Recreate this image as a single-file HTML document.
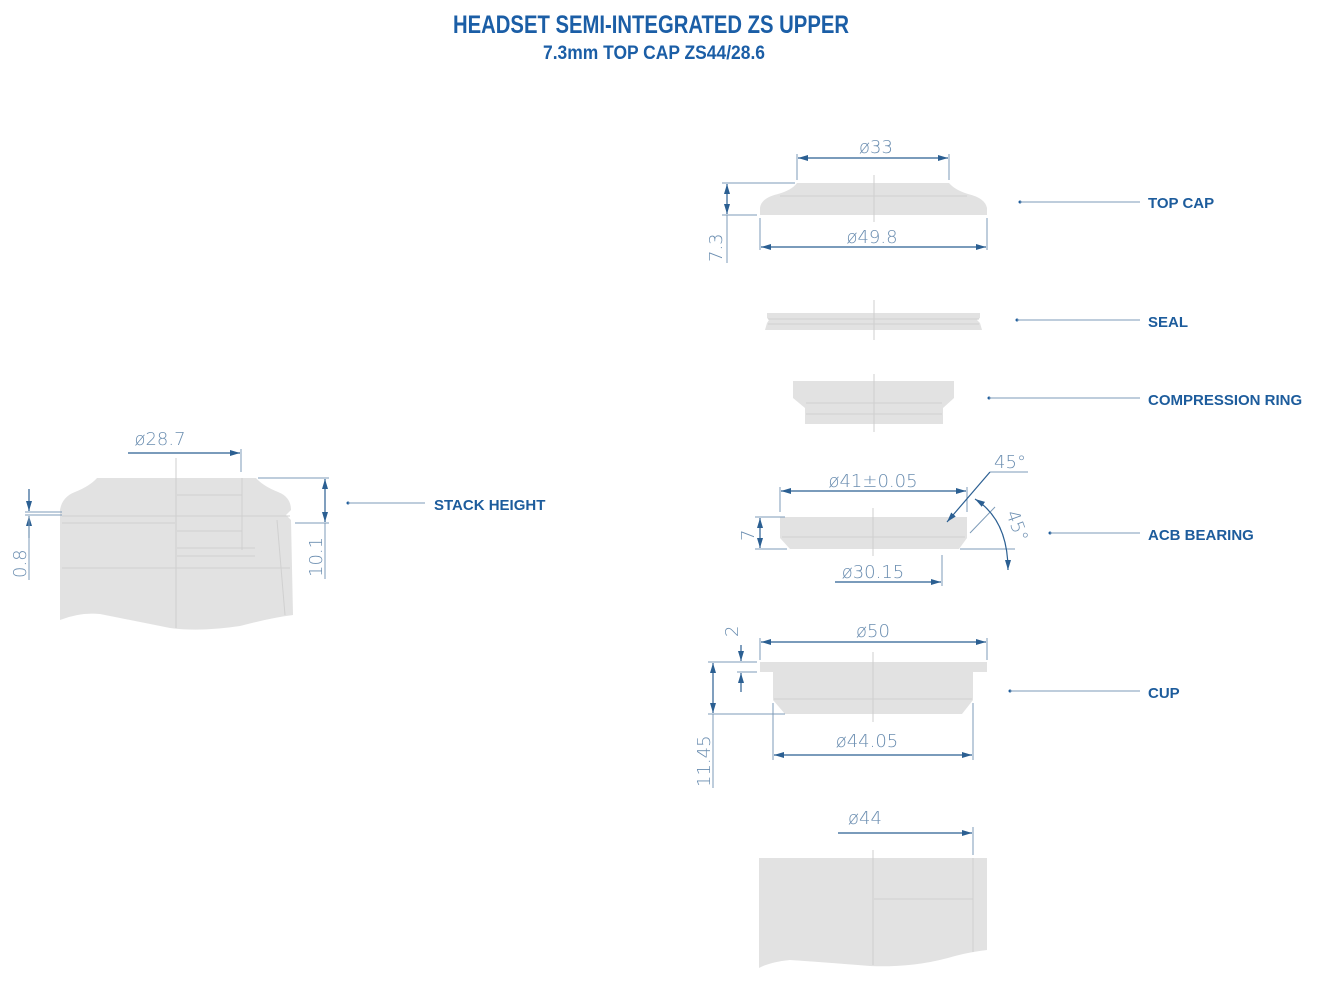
<!DOCTYPE html>
<html><head><meta charset="utf-8"><style>
html,body{margin:0;padding:0;background:#fff;}
svg{display:block;}
.t{font-family:"Liberation Sans Narrow","Liberation Sans",sans-serif;font-weight:bold;fill:#1b5ea6;}
.lb{font-family:"Liberation Sans",sans-serif;font-weight:bold;fill:#1d5c9c;font-size:15px;}
.d{font-family:"DejaVu Sans","Liberation Sans",sans-serif;fill:#6a8db0;font-size:18px;font-weight:200;}
.dl{stroke:#2b5f92;stroke-width:1.2;fill:none;}
.el{stroke:#7d9bb8;stroke-width:1;fill:none;}
.sh{fill:#e2e2e2;}
.ln{stroke:#d0d0d0;stroke-width:1;fill:none;}
.cl{stroke:#cfcfcf;stroke-width:1;}
</style></head><body>
<svg width="1321" height="988" viewBox="0 0 1321 988" xmlns="http://www.w3.org/2000/svg">
<defs>
<marker id="a" viewBox="0 0 10 6" refX="10" refY="3" markerWidth="10" markerHeight="6" orient="auto-start-reverse" markerUnits="userSpaceOnUse"><path d="M0,0 L10,3 L0,6 Z" fill="#2b5f92"/></marker>
</defs>
<text class="t" x="651" y="33" font-size="25" text-anchor="middle" textLength="396" lengthAdjust="spacingAndGlyphs">HEADSET SEMI-INTEGRATED ZS UPPER</text>
<text class="t" x="654" y="59" font-size="19" text-anchor="middle" textLength="222" lengthAdjust="spacingAndGlyphs">7.3mm TOP CAP ZS44/28.6</text>

<!-- TOP CAP -->
<path class="sh" d="M760,215 L760,208 Q761,198 778,194 Q792,190 797,183 L949,183 Q955,190 968,194 Q985,198 987,208 L987,215 Z"/>
<line class="ln" x1="780" y1="196" x2="967" y2="196"/>
<line class="cl" x1="874" y1="175" x2="874" y2="222"/>
<line class="el" x1="797" y1="154" x2="797" y2="180"/><line class="el" x1="949" y1="154" x2="949" y2="180"/>
<line class="dl" x1="798" y1="158" x2="948" y2="158" marker-start="url(#a)" marker-end="url(#a)"/>
<text class="d" x="876" y="153" text-anchor="middle">ø33</text>
<line class="el" x1="760" y1="218" x2="760" y2="250"/><line class="el" x1="987" y1="218" x2="987" y2="250"/>
<line class="dl" x1="761" y1="247" x2="986" y2="247" marker-start="url(#a)" marker-end="url(#a)"/>
<text class="d" x="872" y="243" text-anchor="middle">ø49.8</text>
<line class="el" x1="722" y1="183" x2="795" y2="183"/><line class="el" x1="722" y1="215" x2="757" y2="215"/>
<line class="dl" x1="727" y1="184" x2="727" y2="214" marker-start="url(#a)" marker-end="url(#a)"/>
<line class="el" x1="727" y1="215" x2="727" y2="263"/>
<text class="d" transform="translate(722,262) rotate(-90)">7.3</text>

<!-- SEAL -->
<path class="sh" d="M767,313 L980,313 L980,318 L977,320 L980,323 L982,330 L765,330 L767,323 L769,320 L767,318 Z"/>
<line class="ln" x1="768" y1="319" x2="979" y2="319"/><line class="ln" x1="768" y1="324" x2="979" y2="324"/>
<line class="cl" x1="874" y1="300" x2="874" y2="340"/>

<!-- COMPRESSION RING -->
<path class="sh" d="M793,381 L954,381 L954,398 L943,408 L943,424 L805,424 L805,408 L793,398 Z"/>
<line class="ln" x1="806" y1="403" x2="942" y2="403"/><line class="ln" x1="806" y1="414" x2="942" y2="414"/>
<line class="cl" x1="874" y1="374" x2="874" y2="432"/>

<!-- ACB BEARING -->
<path class="sh" d="M780,517 L967,517 L967,538 L959,549 L790,549 L780,538 Z"/>
<line class="ln" x1="782" y1="537" x2="965" y2="537"/>
<line class="cl" x1="873" y1="508" x2="873" y2="556"/>
<line class="el" x1="780" y1="487" x2="780" y2="512"/><line class="el" x1="967" y1="487" x2="967" y2="512"/>
<line class="dl" x1="781" y1="491" x2="966" y2="491" marker-start="url(#a)" marker-end="url(#a)"/>
<text class="d" x="873" y="487" text-anchor="middle" font-size="17">ø41±0.05</text>
<line class="el" x1="755" y1="517" x2="785" y2="517"/><line class="el" x1="755" y1="549" x2="787" y2="549"/>
<line class="dl" x1="760" y1="518" x2="760" y2="548" marker-start="url(#a)" marker-end="url(#a)"/>
<text class="d" transform="translate(754,541) rotate(-90)">7</text>
<line class="el" x1="942" y1="555" x2="942" y2="586"/>
<line class="dl" x1="835" y1="582" x2="941" y2="582" marker-end="url(#a)"/>
<text class="d" x="873" y="578" text-anchor="middle">ø30.15</text>
<line class="el" x1="990" y1="472" x2="1028" y2="472"/>
<line class="dl" x1="990" y1="472" x2="947" y2="522" marker-end="url(#a)"/>
<text class="d" x="1010" y="468" text-anchor="middle">45°</text>
<line class="el" x1="970" y1="533" x2="995" y2="507"/>
<line class="el" x1="960" y1="549" x2="1015" y2="549"/>
<path class="dl" d="M975,499 Q1008,520 1008,570" marker-start="url(#a)" marker-end="url(#a)"/>
<text class="d" transform="translate(1006,513) rotate(70)" font-size="17">45°</text>

<!-- CUP -->
<path class="sh" d="M760,662 L987,662 L987,672 L973,672 L973,700 L962,714 L785,714 L773,700 L773,672 L760,672 Z"/>
<line class="ln" x1="774" y1="699" x2="972" y2="699"/>
<line class="cl" x1="873" y1="652" x2="873" y2="722"/>
<line class="el" x1="760" y1="638" x2="760" y2="660"/><line class="el" x1="987" y1="638" x2="987" y2="660"/>
<line class="dl" x1="761" y1="642" x2="986" y2="642" marker-start="url(#a)" marker-end="url(#a)"/>
<text class="d" x="873" y="637" text-anchor="middle">ø50</text>
<line class="el" x1="708" y1="662" x2="757" y2="662"/><line class="el" x1="737" y1="672" x2="757" y2="672"/>
<line class="dl" x1="741" y1="645" x2="741" y2="661" marker-end="url(#a)"/>
<line class="dl" x1="741" y1="692" x2="741" y2="673" marker-end="url(#a)"/>
<text class="d" transform="translate(738,637) rotate(-90)">2</text>
<line class="el" x1="708" y1="714" x2="785" y2="714"/>
<line class="dl" x1="713" y1="663" x2="713" y2="713" marker-start="url(#a)" marker-end="url(#a)"/>
<line class="el" x1="713" y1="714" x2="713" y2="788"/>
<text class="d" transform="translate(710,787) rotate(-90)">11.45</text>
<line class="el" x1="773" y1="703" x2="773" y2="760"/><line class="el" x1="973" y1="703" x2="973" y2="760"/>
<line class="dl" x1="774" y1="755" x2="972" y2="755" marker-start="url(#a)" marker-end="url(#a)"/>
<text class="d" x="867" y="747" text-anchor="middle">ø44.05</text>

<!-- HEAD TUBE -->
<path class="sh" d="M759,858 L987,858 L987,950 Q970,952 955,956 Q915,968 870,966 Q820,962 790,960 Q770,962 759,968 Z"/>
<line class="cl" x1="873" y1="850" x2="873" y2="965"/>
<line class="ln" x1="874" y1="899" x2="973" y2="899"/>
<line class="ln" x1="973" y1="858" x2="973" y2="952"/>
<line class="el" x1="973" y1="827" x2="973" y2="855"/>
<line class="dl" x1="838" y1="833" x2="972" y2="833" marker-end="url(#a)"/>
<text class="d" x="865" y="824" text-anchor="middle">ø44</text>

<!-- STACK (left) -->
<path class="sh" d="M60,510 Q62,497 75,492 Q90,486 97,478 L256,478 Q263,486 278,492 Q291,497 291,510 L286,515 L291,520 L293,615 Q270,618 240,626 Q200,632 170,628 Q130,620 100,614 Q80,612 60,620 Z"/>
<line class="ln" x1="62" y1="516" x2="290" y2="516"/>
<line class="ln" x1="62" y1="523" x2="175" y2="523"/>
<line class="ln" x1="62" y1="568" x2="290" y2="568"/>
<line class="ln" x1="177" y1="495" x2="242" y2="495"/>
<line class="ln" x1="177" y1="531" x2="242" y2="531"/>
<line class="ln" x1="177" y1="548" x2="255" y2="548"/>
<line class="ln" x1="177" y1="556" x2="255" y2="556"/>
<line class="ln" x1="242" y1="478" x2="242" y2="550"/>
<line class="ln" x1="277" y1="520" x2="285" y2="615"/>
<line class="cl" x1="176" y1="458" x2="176" y2="628"/>
<line class="el" x1="241" y1="449" x2="241" y2="472"/>
<line class="dl" x1="128" y1="453" x2="240" y2="453" marker-end="url(#a)"/>
<text class="d" x="160" y="445" text-anchor="middle">ø28.7</text>
<line class="el" x1="258" y1="478" x2="329" y2="478"/><line class="el" x1="295" y1="523" x2="329" y2="523"/>
<line class="dl" x1="325" y1="479" x2="325" y2="522" marker-start="url(#a)" marker-end="url(#a)"/>
<line class="el" x1="325" y1="523" x2="325" y2="579"/>
<text class="d" transform="translate(322,577) rotate(-90)">10.1</text>
<line class="el" x1="25" y1="512" x2="62" y2="512"/><line class="el" x1="25" y1="515" x2="62" y2="515"/>
<line class="dl" x1="29" y1="489" x2="29" y2="511" marker-end="url(#a)"/>
<line class="dl" x1="29" y1="538" x2="29" y2="516" marker-end="url(#a)"/>
<line class="el" x1="29" y1="516" x2="29" y2="580"/>
<text class="d" transform="translate(26,578) rotate(-90)">0.8</text>

<!-- LABELS -->
<g fill="#1d5c9c"><circle cx="348" cy="503" r="1.5"/><circle cx="1020" cy="202" r="1.5"/><circle cx="1017" cy="320" r="1.5"/><circle cx="989" cy="398" r="1.5"/><circle cx="1050" cy="533" r="1.5"/><circle cx="1010" cy="691" r="1.5"/></g>
<g class="el"><line x1="348" y1="503" x2="425" y2="503"/><line x1="1020" y1="202" x2="1140" y2="202"/><line x1="1017" y1="320" x2="1140" y2="320"/><line x1="989" y1="398" x2="1140" y2="398"/><line x1="1050" y1="533" x2="1140" y2="533"/><line x1="1010" y1="691" x2="1140" y2="691"/></g>
<text class="lb" x="434" y="510">STACK HEIGHT</text>
<text class="lb" x="1148" y="208">TOP CAP</text>
<text class="lb" x="1148" y="327">SEAL</text>
<text class="lb" x="1148" y="405">COMPRESSION RING</text>
<text class="lb" x="1148" y="540">ACB BEARING</text>
<text class="lb" x="1148" y="698">CUP</text>
</svg>
</body></html>
